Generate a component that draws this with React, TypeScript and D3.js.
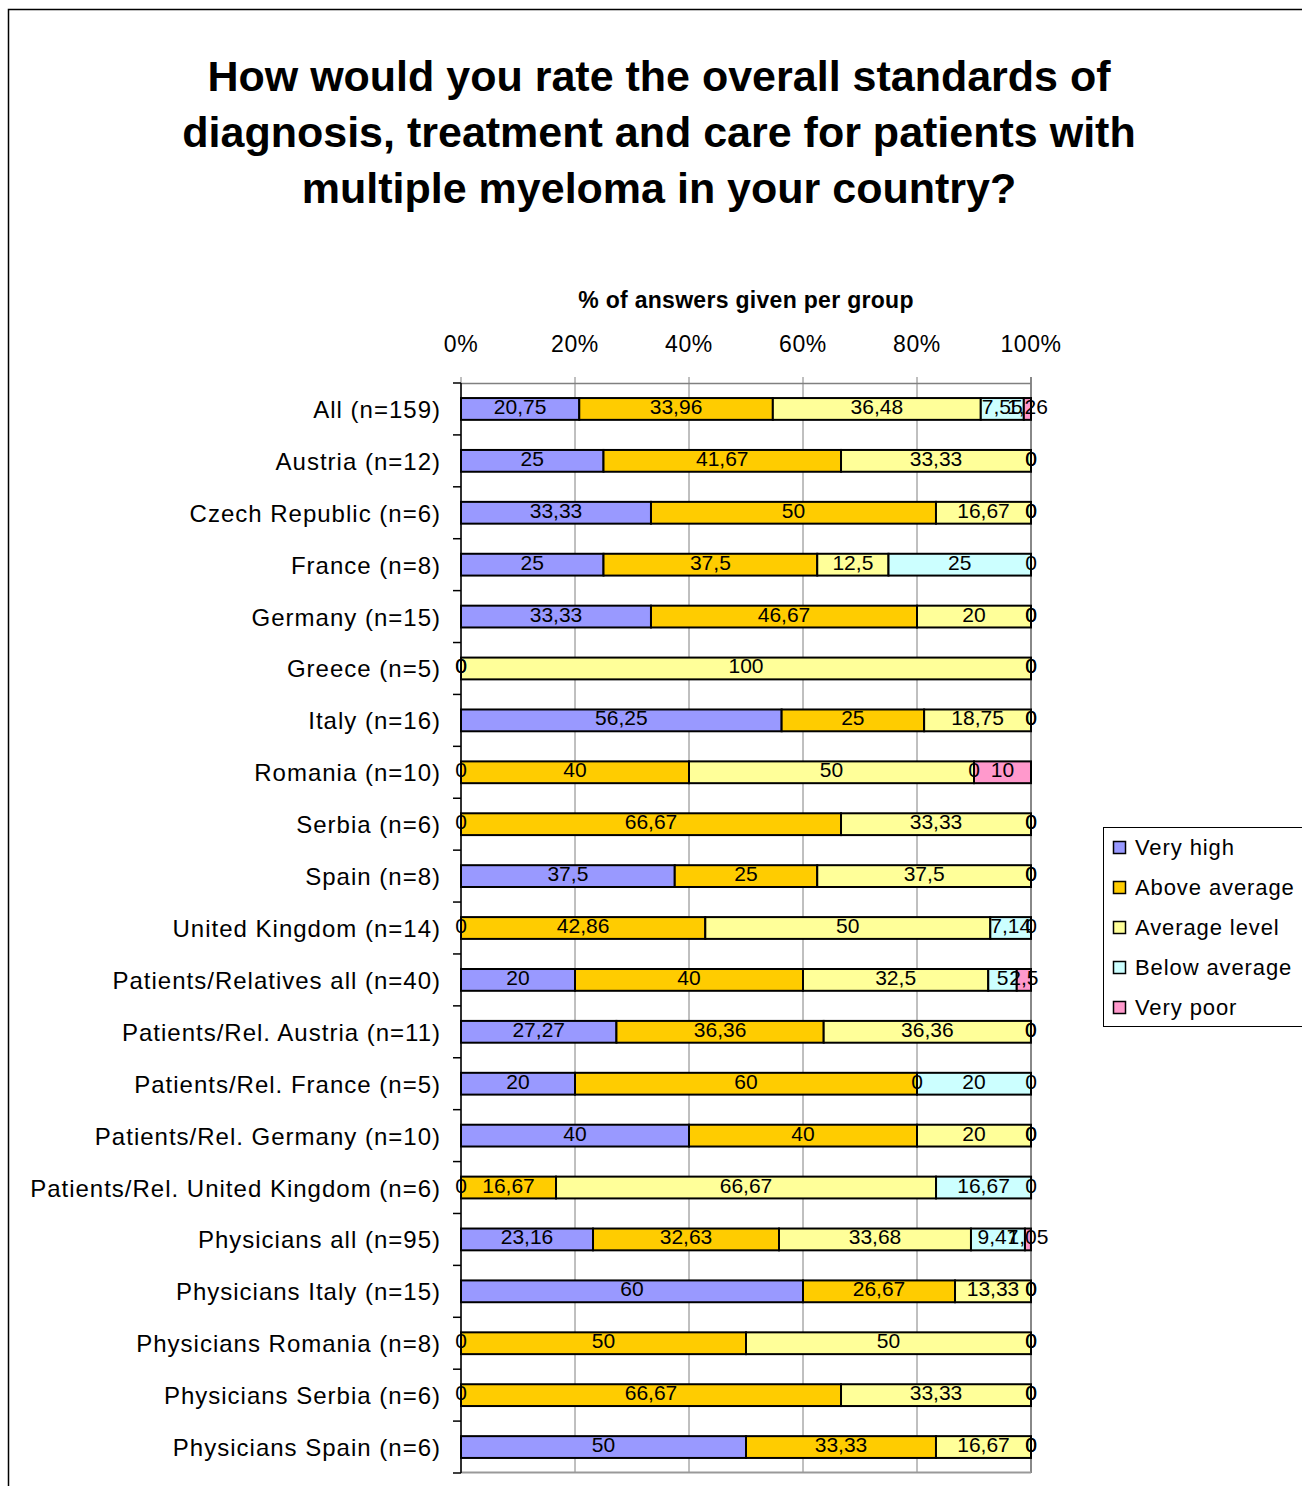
import React from 'react'
import { scaleLinear, scaleBand } from 'd3'

const categories = [
  'All (n=159)', 'Austria (n=12)', 'Czech Republic (n=6)', 'France (n=8)', 'Germany (n=15)',
  'Greece (n=5)', 'Italy (n=16)', 'Romania (n=10)', 'Serbia (n=6)', 'Spain (n=8)',
  'United Kingdom (n=14)', 'Patients/Relatives all (n=40)', 'Patients/Rel. Austria (n=11)',
  'Patients/Rel. France (n=5)', 'Patients/Rel. Germany (n=10)', 'Patients/Rel. United Kingdom (n=6)',
  'Physicians all (n=95)', 'Physicians Italy (n=15)', 'Physicians Romania (n=8)',
  'Physicians Serbia (n=6)', 'Physicians Spain (n=6)',
]

const seriesNames = ['Very high', 'Above average', 'Average level', 'Below average', 'Very poor']
const seriesColors = ['#9999FF', '#FFCC00', '#FFFF99', '#CCFFFF', '#FF99CC']

const veryHigh = [20.75, 25, 33.33, 25, 33.33, 0, 56.25, 0, 0, 37.5, 0, 20, 27.27, 20, 40, 0, 23.16, 60, 0, 0, 50]
const aboveAverage = [33.96, 41.67, 50, 37.5, 46.67, 0, 25, 40, 66.67, 25, 42.86, 40, 36.36, 60, 40, 16.67, 32.63, 26.67, 50, 66.67, 33.33]
const averageLevel = [36.48, 33.33, 16.67, 12.5, 20, 100, 18.75, 50, 33.33, 37.5, 50, 32.5, 36.36, 0, 20, 66.67, 33.68, 13.33, 50, 33.33, 16.67]
const belowAverage = [7.55, 0, 0, 25, 0, 0, 0, 0, 0, 0, 7.14, 5, 0, 20, 0, 16.67, 9.47, 0, 0, 0, 0]
const veryPoor = [1.26, 0, 0, 0, 0, 0, 0, 10, 0, 0, 0, 2.5, 0, 0, 0, 0, 1.05, 0, 0, 0, 0]

const xTicks = [0, 20, 40, 60, 80, 100]

const titleLines = [
  'How would you rate the overall standards of',
  'diagnosis, treatment and care for patients with',
  'multiple myeloma in your country?',
]

const FONT = 'Liberation Sans, Arial, sans-serif'

const App = () => {
  const series = [veryHigh, aboveAverage, averageLevel, belowAverage, veryPoor]

  const x = scaleLinear().domain([0, 100]).range([461, 1031])
  const y = scaleBand().domain(categories).range([383, 1473]).paddingInner(0.58).paddingOuter(0.29)
  const step = y.step()

  const fmt = (v: number) => String(v).replace('.', ',')

  // stacked segments per row
  const rows = categories.map((cat, i) => {
    let acc = 0
    return series.map((s, k) => {
      const seg = { k, x0: acc, x1: acc + s[i], v: s[i] }
      acc += s[i]
      return seg
    })
  })

  return (
    <svg width={1302} height={1486} style={{ position: 'absolute', left: 0, top: 0, background: 'white' }}
      fontFamily={FONT}>
      <rect x={8.5} y={9.5} width={1310} height={1490} fill="white" stroke="#000" strokeWidth={1.5} />

      {titleLines.map((t, i) => (
        <text key={t} x={659} y={91 + i * 56} textAnchor="middle" fontSize={43} fontWeight="bold">{t}</text>
      ))}

      <text x={746} y={308} textAnchor="middle" fontSize={23} fontWeight="bold" letterSpacing={0.3}>% of answers given per group</text>

      {/* top axis */}
      {xTicks.map(t => (
        <g key={t}>
          <text x={x(t)} y={352} textAnchor="middle" fontSize={23} letterSpacing={0.6}>{t}%</text>
          <line x1={x(t)} x2={x(t)} y1={377} y2={1473} stroke={t === 100 ? '#888' : '#808080'} strokeWidth={t === 100 ? 2 : 1} />
        </g>
      ))}
      <line x1={461} x2={1031} y1={383.5} y2={383.5} stroke="#808080" strokeWidth={1.5} />
      <line x1={461} x2={1031} y1={1472.5} y2={1472.5} stroke="#999" strokeWidth={2} />

      {/* left axis */}
      <line x1={461} x2={461} y1={383} y2={1473} stroke="#000" strokeWidth={1.5} />
      {categories.map((c, i) => (
        <line key={c} x1={453} x2={461} y1={383 + i * step} y2={383 + i * step} stroke="#000" strokeWidth={1.5} />
      ))}
      <line x1={453} x2={461} y1={1473} y2={1473} stroke="#000" strokeWidth={1.5} />

      {categories.map((c, i) => (
        <text key={c} x={441} y={(y(c) as number) + y.bandwidth() / 2 + 9} textAnchor="end" fontSize={24}
          letterSpacing={1}>{c}</text>
      ))}

      {/* bars */}
      {rows.map((segs, i) => (
        <g key={categories[i]}>
          {segs.filter(s => s.v > 0).map(s => (
            <rect key={s.k} x={x(s.x0)} y={y(categories[i])} width={x(s.x1) - x(s.x0)} height={y.bandwidth()}
              fill={seriesColors[s.k]} stroke="#000" strokeWidth={2} />
          ))}
          {segs.map(s => (
            <text key={'l' + s.k} x={(x(s.x0) + x(s.x1)) / 2} y={(y(categories[i]) as number) + y.bandwidth() / 2 + 5}
              textAnchor="middle" fontSize={21}>{fmt(s.v)}</text>
          ))}
        </g>
      ))}

      {/* legend */}
      <rect x={1103.5} y={827.5} width={210} height={199} fill="white" stroke="#000" strokeWidth={1} />
      {seriesNames.map((n, k) => (
        <g key={n}>
          <rect x={1113.5} y={841.5 + k * 40} width={12} height={12} fill={seriesColors[k]} stroke="#000" strokeWidth={1.5} />
          <text x={1135} y={855 + k * 40} fontSize={22} letterSpacing={0.9}>{n}</text>
        </g>
      ))}
    </svg>
  )
}

export default App
